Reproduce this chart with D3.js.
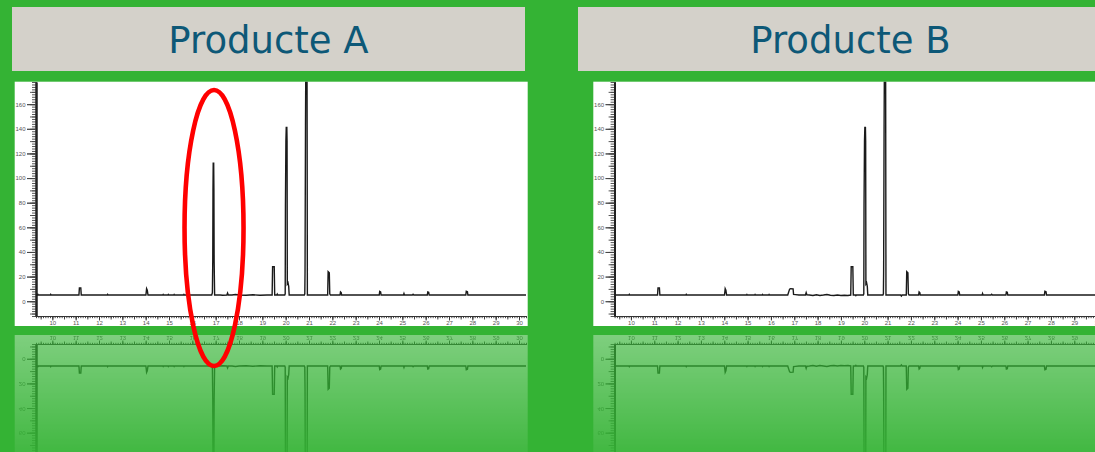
<!DOCTYPE html>
<html>
<head>
<meta charset="utf-8">
<script src="https://cdn.jsdelivr.net/npm/d3@7"></script>
<style>
  html, body { margin: 0; padding: 0; background: #34b334; overflow: hidden; }
  svg { display: block; }
</style>
</head>
<body>
<svg id="chart" width="1095" height="452"></svg>
<script>
// Panel titles
const productTitles = ["Producte A", "Producte B"];

// Chromatogram traces: [retention time (min), detector response]
const traceA = [
  [9.30, 5.0], [9.36, 5.0], [9.38, 5.6], [9.40, 5.0], [9.91, 5.0], [9.93, 5.6], [9.95, 5.0],
  [11.14, 5.0], [11.16, 10.8], [11.22, 10.8], [11.24, 5.0],
  [12.35, 5.0], [12.37, 5.6], [12.39, 5.0],
  [14.01, 5.0], [14.04, 10.2], [14.07, 9.0], [14.10, 5.0],
  [14.73, 5.0], [14.75, 5.5], [14.77, 5.0], [14.95, 5.0], [14.97, 5.5], [14.99, 5.0],
  [15.20, 5.0], [15.22, 5.5], [15.24, 5.0], [15.62, 5.0], [15.64, 5.5], [15.66, 5.0],
  [16.83, 5.0], [16.86, 7.0], [16.875, 32], [16.885, 90], [16.895, 112], [16.915, 112], [16.925, 90], [16.935, 32], [16.955, 5.0],
  [17.20, 5.0], [17.30, 4.8], [17.48, 5.0], [17.51, 6.6], [17.54, 5.0], [17.70, 5.0], [17.85, 5.4],
  [18.00, 5.0], [18.30, 4.8], [18.60, 5.2], [18.90, 4.9], [19.20, 5.1],
  [19.42, 5.0], [19.44, 28], [19.51, 28], [19.53, 5.0], [19.62, 5.0], [19.64, 5.8], [19.66, 5.0],
  [19.96, 5.0], [19.98, 6.0], [19.99, 78], [20.01, 130], [20.025, 141], [20.05, 141], [20.06, 130], [20.07, 14], [20.10, 15], [20.13, 12], [20.15, 5.0],
  [20.80, 5.0], [20.82, 6.0], [20.83, 24], [20.85, 143], [20.865, 200], [20.915, 200], [20.93, 5.0],
  [21.80, 5.0], [21.82, 24], [21.87, 23], [21.89, 6.0], [21.92, 5.0],
  [22.33, 5.0], [22.35, 7.5], [22.38, 7.0], [22.40, 5.0],
  [24.01, 5.0], [24.03, 8.0], [24.07, 7.5], [24.09, 5.0],
  [25.05, 5.0], [25.07, 6.2], [25.09, 5.0],
  [25.43, 5.0], [25.46, 5.6], [25.49, 5.0],
  [26.07, 5.0], [26.09, 7.5], [26.13, 7.2], [26.15, 5.0],
  [27.72, 5.0], [27.74, 8.0], [27.79, 7.6], [27.81, 5.0],
  [30.30, 5.0]
];

const traceB = [
  [9.30, 5.0], [9.91, 5.0], [9.93, 5.6], [9.95, 5.0],
  [11.14, 5.0], [11.16, 10.8], [11.22, 10.8], [11.24, 5.0],
  [12.35, 5.0], [12.37, 5.6], [12.39, 5.0],
  [14.01, 5.0], [14.04, 10.2], [14.07, 9.0], [14.10, 5.0],
  [14.95, 5.0], [14.97, 5.5], [14.99, 5.0], [15.30, 5.0], [15.32, 5.5], [15.34, 5.0],
  [15.62, 5.0], [15.64, 5.5], [15.66, 5.0], [15.90, 5.0], [15.92, 5.5], [15.94, 5.0],
  [16.72, 5.0], [16.80, 9.8], [16.84, 10.2], [16.95, 10.0], [16.97, 5.6], [17.05, 5.4], [17.20, 5.0],
  [17.48, 5.0], [17.51, 7.0], [17.54, 5.2], [17.65, 5.0], [17.80, 4.6], [17.95, 5.2], [18.10, 4.7],
  [18.25, 5.0], [18.40, 5.4], [18.55, 4.9], [18.70, 4.6], [18.85, 5.0], [19.00, 4.7], [19.15, 4.9], [19.30, 4.6],
  [19.42, 5.0], [19.44, 28], [19.51, 28], [19.53, 5.0], [19.62, 5.0], [19.64, 4.5], [19.66, 5.0],
  [19.96, 5.0], [19.98, 6.0], [19.99, 78], [20.01, 130], [20.025, 141], [20.05, 141], [20.06, 130], [20.07, 14], [20.10, 15], [20.13, 12], [20.15, 5.0],
  [20.80, 5.0], [20.82, 6.0], [20.83, 24], [20.85, 143], [20.865, 200], [20.915, 200], [20.93, 5.0],
  [21.56, 5.0], [21.59, 4.2], [21.62, 5.0],
  [21.80, 5.0], [21.82, 24], [21.87, 23], [21.89, 6.0], [21.92, 5.0],
  [22.33, 5.0], [22.35, 7.5], [22.38, 7.0], [22.40, 5.0],
  [24.01, 5.0], [24.03, 8.0], [24.07, 7.5], [24.09, 5.0],
  [25.05, 5.0], [25.07, 6.2], [25.09, 5.0],
  [25.43, 5.0], [25.46, 5.6], [25.49, 5.0],
  [26.07, 5.0], [26.09, 7.5], [26.13, 7.2], [26.15, 5.0],
  [27.72, 5.0], [27.74, 8.0], [27.79, 7.6], [27.81, 5.0],
  [30.30, 5.0]
];

// Axis ranges and labelled ticks
const timeDomain = [9.3, 30.3];
const responseDomain = [-12, 178];
const yTickLabels = [0, 20, 40, 60, 80, 100, 120, 140, 160];
const xTickLabels = [10, 11, 12, 13, 14, 15, 16, 17, 18, 19, 20, 21, 22, 23, 24, 25, 26, 27, 28, 29, 30];

// Panel placement
const panels = [
  { title: productTitles[0], trace: traceA, headerX: 12, headerW: 513, plotX: 14.7 },
  { title: productTitles[1], trace: traceB, headerX: 578, headerW: 545, plotX: 593.3 }
];
const plotY = 81.7, plotW = 513, plotH = 244.3;
const mirrorY = 661; // reflection: y' = mirrorY - y

const svg = d3.select("#chart");
svg.append("rect").attr("width", 1095).attr("height", 452).attr("fill", "#34b334");

const defs = svg.append("defs");
const grad = defs.append("linearGradient")
  .attr("id", "fadeGrad").attr("gradientUnits", "userSpaceOnUse")
  .attr("x1", 0).attr("y1", 335).attr("x2", 0).attr("y2", 480);
grad.append("stop").attr("offset", 0).attr("stop-color", "#fff").attr("stop-opacity", 0.37);
grad.append("stop").attr("offset", 1).attr("stop-color", "#fff").attr("stop-opacity", 0);
defs.append("mask").attr("id", "fadeMask")
  .attr("maskUnits", "userSpaceOnUse").attr("x", 0).attr("y", 0).attr("width", 1095).attr("height", 452)
  .append("rect").attr("x", 0).attr("y", 330).attr("width", 1095).attr("height", 160)
  .attr("fill", "url(#fadeGrad)");

panels.forEach((p, i) => {
  defs.append("clipPath").attr("id", "plotClip" + i)
    .append("rect").attr("x", p.plotX).attr("y", plotY).attr("width", plotW).attr("height", plotH);
});

function scalesFor(p) {
  const x = d3.scaleLinear().domain(timeDomain).range([p.plotX + 21.3, p.plotX + 511.3]);
  const y = d3.scaleLinear().domain(responseDomain).range([316, 82]);
  return { x, y };
}

// Draws one chromatogram panel; in the mirrored copy only the labels that stay on screen are kept
function drawPlot(g, p, i, mirrored) {
  const { x, y } = scalesFor(p);
  g.append("rect").attr("x", p.plotX).attr("y", plotY).attr("width", plotW).attr("height", plotH).attr("fill", "#fff");

  // Y axis: minor every 2, medium every 10, labelled every 20
  const yMinor = d3.range(-12, 179, 2);
  const yMid = d3.range(-10, 179, 10);
  const yLabels = mirrored ? yTickLabels.filter(v => mirrorY - y(v) < 440) : yTickLabels;
  const yAxisG = g.append("g").attr("transform", `translate(${x(timeDomain[0])},0)`);
  yAxisG.append("g").call(d3.axisLeft(y).tickValues(yMinor).tickSize(4).tickSizeOuter(0).tickFormat(""));
  yAxisG.append("g").call(d3.axisLeft(y).tickValues(yMid).tickSize(6).tickSizeOuter(0).tickFormat(""));
  yAxisG.append("g").call(d3.axisLeft(y).tickValues(yTickLabels).tickSize(9).tickSizeOuter(0).tickFormat(""));
  yAxisG.append("g").call(d3.axisLeft(y).tickValues(yLabels).tickSize(9).tickPadding(1.5).tickSizeOuter(0).tickFormat(d3.format("d")));
  yAxisG.selectAll(".domain").attr("stroke", "#222").attr("stroke-width", 1.6);
  yAxisG.selectAll(".tick line").attr("stroke", "#444").attr("stroke-width", 0.9);
  yAxisG.selectAll("text").attr("font-family", "Liberation Sans, Arial, sans-serif").attr("font-size", 6).attr("fill", "#555");

  // X axis: minor every 0.1, medium every 0.5, labelled every minute
  const xMinor = d3.range(93, 304).map(v => v / 10);
  const xMid = d3.range(19, 61).map(v => v / 2);
  const xAxisG = g.append("g").attr("transform", `translate(0,${y(responseDomain[0])})`);
  xAxisG.append("g").call(d3.axisBottom(x).tickValues(xMinor).tickSize(2.2).tickSizeOuter(0).tickFormat(""));
  xAxisG.append("g").call(d3.axisBottom(x).tickValues(xMid).tickSize(3.5).tickSizeOuter(0).tickFormat(""));
  xAxisG.append("g").call(d3.axisBottom(x).tickValues(xTickLabels).tickSize(4.5).tickSizeOuter(0).tickFormat(d3.format("d")));
  xAxisG.selectAll(".domain").attr("stroke", "#333").attr("stroke-width", 1);
  xAxisG.selectAll(".tick line").attr("stroke", "#333").attr("stroke-width", 0.9);
  xAxisG.selectAll("text").attr("y", 4.6).attr("dy", "0.71em")
    .attr("font-family", "Liberation Sans, Arial, sans-serif").attr("font-size", 6).attr("fill", "#555");

  // Trace
  const line = d3.line().x(d => x(d[0])).y(d => y(d[1]));
  g.append("path").datum(p.trace)
    .attr("clip-path", `url(#plotClip${i})`)
    .attr("d", line)
    .attr("fill", "none").attr("stroke", "#1a1a1a").attr("stroke-width", 1.4)
    .attr("stroke-linejoin", "miter");
}

panels.forEach((p, i) => {
  // Title bar
  svg.append("rect").attr("x", p.headerX).attr("y", 7).attr("width", p.headerW).attr("height", 64).attr("fill", "#d4d1ca");
  svg.append("text")
    .attr("x", p.headerX + p.headerW / 2).attr("y", 53.3)
    .attr("text-anchor", "middle")
    .attr("font-family", "DejaVu Sans, Verdana, sans-serif")
    .attr("font-size", 37).attr("fill", "#0d5877")
    .text(p.title);

  // Chart
  drawPlot(svg.append("g"), p, i, false);

  // Mirrored copy fading into the background
  const refl = svg.append("g").attr("mask", "url(#fadeMask)")
    .append("g").attr("transform", `translate(0,${mirrorY}) scale(1,-1)`);
  drawPlot(refl, p, i, true);
});

// Highlight around the peak at ~16.9 min in Producte A
const sA = scalesFor(panels[0]);
svg.append("ellipse")
  .attr("cx", sA.x(16.93)).attr("cy", 228)
  .attr("rx", 29.5).attr("ry", 138)
  .attr("fill", "none").attr("stroke", "#ff0000").attr("stroke-width", 4.6);
</script>
</body>
</html>
